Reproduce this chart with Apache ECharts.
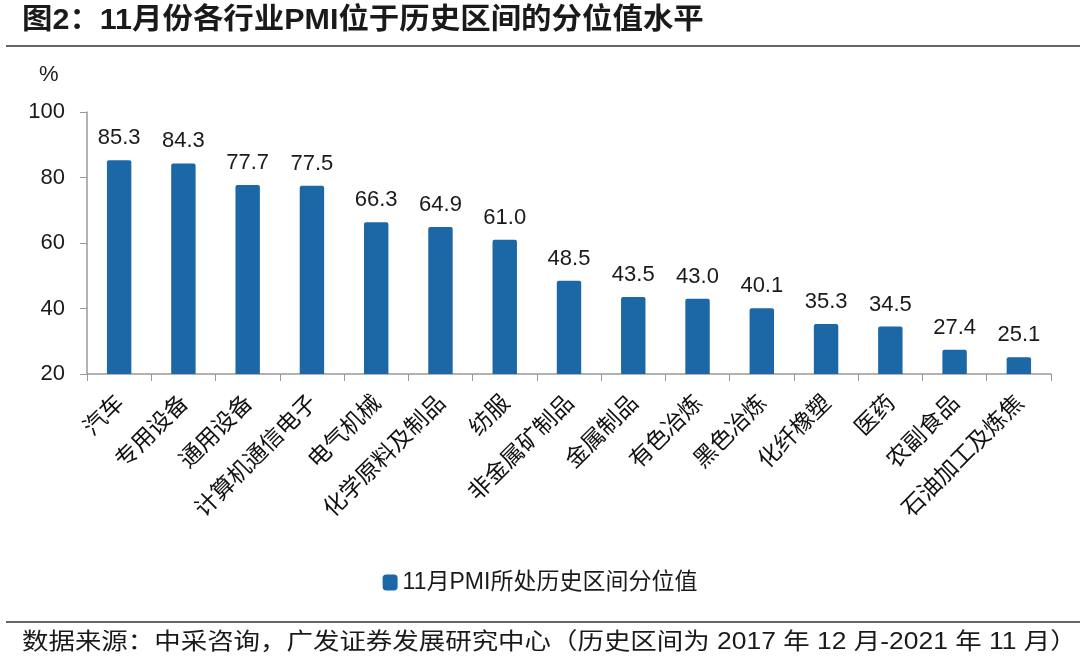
<!DOCTYPE html>
<html><head><meta charset="utf-8">
<script src="https://cdn.jsdelivr.net/npm/echarts@6/dist/echarts.min.js"></script>
<style>html,body{margin:0;padding:0;background:#fff}#c{width:1080px;height:666px}</style>
</head><body><div id="c"></div>
<script>
const categories = ['汽车','专用设备','通用设备','计算机通信电子','电气机械','化学原料及制品','纺服','非金属矿制品','金属制品','有色冶炼','黑色冶炼','化纤橡塑','医药','农副食品','石油加工及炼焦'];
const values = [85.3,84.3,77.7,77.5,66.3,64.9,61.0,48.5,43.5,43.0,40.1,35.3,34.5,27.4,25.1];
const seriesName = '11月PMI所处历史区间分位值';
const yTicks = {min:20, max:100, interval:20};
const titleText = '图2：11月份各行业PMI位于历史区间的分位值水平';
const footerText = '数据来源：中采咨询，广发证券发展研究中心（历史区间为 2017 年 12 月-2021 年 11 月）';

const cjk = '"Liberation Sans", Arial, "Noto Sans CJK SC", sans-serif';
const chart = echarts.init(document.getElementById('c'));
chart.setOption({
  backgroundColor:'#fff',
  animation:false,
  grid:{left:87, right:29, top:112, bottom:292},
  legend:{
    data:[seriesName], top:566, left:'center',
    itemWidth:15, itemHeight:16, itemGap:5,
    textStyle:{fontSize:23, color:'#1a1a1a', fontFamily:cjk}
  },
  graphic:[
    {type:'text', left:22, top:6, scaleX:1.05, style:{text:titleText, font:'bold 29px "Liberation Sans", "Noto Sans CJK SC", sans-serif', fill:'#1a1a1a'}},
    {type:'line', shape:{x1:6, y1:46, x2:1080, y2:46}, style:{stroke:'#333', lineWidth:1.5}},
    {type:'line', shape:{x1:6, y1:622, x2:1080, y2:622}, style:{stroke:'#333', lineWidth:1.5}},
    {type:'text', left:22, top:631, scaleX:1.15, style:{text:footerText, font:'23px "Liberation Sans", "Noto Sans CJK SC", sans-serif', fill:'#1a1a1a'}},
    {type:'text', left:39, top:64, style:{text:'%', font:'22px "Liberation Sans", sans-serif', fill:'#1a1a1a'}}
  ],
  xAxis:{
    type:'category', data:categories,
    axisLine:{lineStyle:{color:'#999', width:1.5}},
    axisTick:{show:true, length:7, lineStyle:{color:'#999'}},
    axisLabel:{rotate:45, fontSize:23, color:'#111', margin:24, interval:0, fontFamily:'"Noto Sans CJK SC", sans-serif'}
  },
  yAxis:{
    type:'value', min:yTicks.min, max:yTicks.max, interval:yTicks.interval,
    splitLine:{show:false},
    axisLine:{show:true, lineStyle:{color:'#999', width:1.5}},
    axisTick:{show:true, length:7, lineStyle:{color:'#999'}},
    axisLabel:{fontSize:22, color:'#1a1a1a', margin:22, fontFamily:'"Liberation Sans", Arial, sans-serif'}
  },
  series:[{
    name:seriesName, type:'bar', data:values, barWidth:'38%',
    itemStyle:{color:'#1c67a6', borderRadius:[2,2,0,0]},
    label:{show:true, position:'top', distance:11, fontSize:22, color:'#1a1a1a', fontFamily:'"Liberation Sans", Arial, sans-serif',
      formatter:p=>p.value.toFixed(1)}
  }]
});
</script></body></html>
